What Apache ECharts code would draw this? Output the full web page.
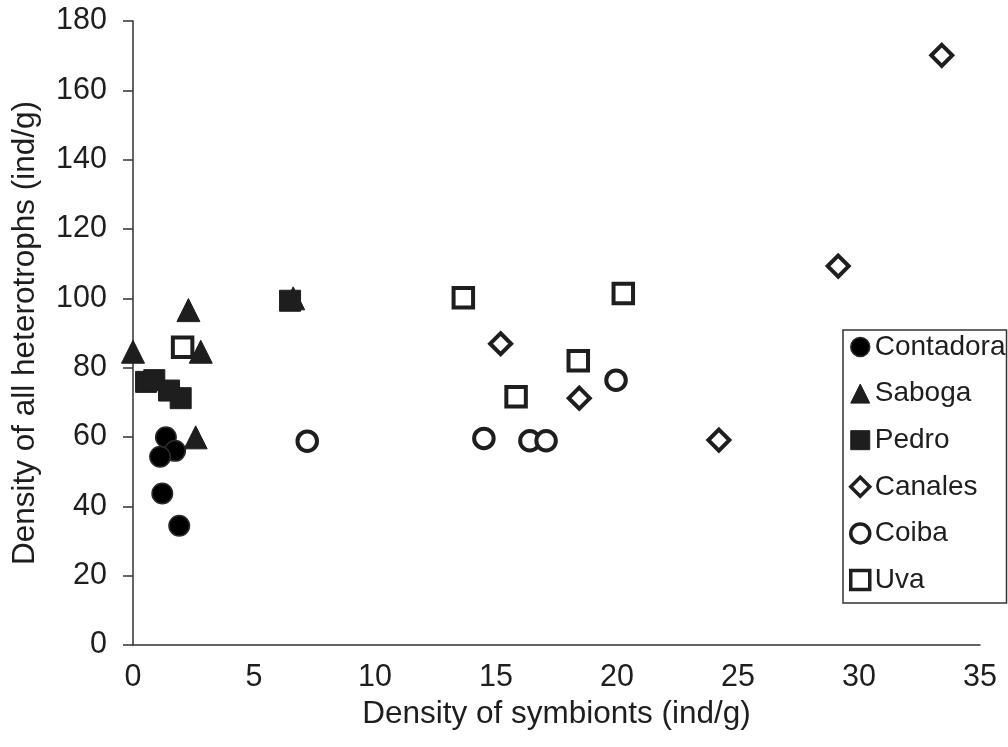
<!DOCTYPE html>
<html>
<head>
<meta charset="utf-8">
<script src="https://cdn.jsdelivr.net/npm/echarts@6/dist/echarts.min.js"></script>
<style>
html,body{margin:0;padding:0;background:#fff;}
#chart{width:1008px;height:747px;}
</style>
</head>
<body>
<div id="chart"></div>
<script>
const seriesNames = ['Contadora', 'Saboga', 'Pedro', 'Canales', 'Coiba', 'Uva'];
const contadoraX = [1.36, 1.74, 1.12, 1.21, 1.91];
const contadoraY = [59.9, 56.0, 54.3, 43.7, 34.4];
const sabogaX = [0.0, 2.29, 2.8, 2.59, 6.62];
const sabogaY = [84.6, 96.6, 84.6, 59.9, 100.0];
const pedroX = [0.54, 0.88, 1.49, 1.97, 6.49];
const pedroY = [75.9, 76.4, 73.4, 71.2, 99.3];
const canalesX = [15.19, 18.44, 24.21, 29.14, 33.42];
const canalesY = [86.9, 71.2, 59.1, 109.3, 170.1];
const coibaX = [7.2, 14.5, 16.4, 17.07, 19.96];
const coibaY = [58.8, 59.6, 58.9, 58.9, 76.4];
const uvaX = [2.05, 13.65, 15.83, 18.4, 20.26];
const uvaY = [85.9, 100.2, 71.6, 82.0, 101.4];

const xTicks = [0, 5, 10, 15, 20, 25, 30, 35];
const yTicks = [0, 20, 40, 60, 80, 100, 120, 140, 160, 180];

function pairs(xs, ys) { return xs.map((x, i) => [x, ys[i]]); }

const FONT = 'Liberation Sans, Arial, sans-serif';
const INK = '#1e1e1e';

const styles = [
  {symbol: 'circle', size: 20.5, item: {color: '#000', borderColor: '#2a2a2a', borderWidth: 1.5, opacity: 1}},
  {symbol: 'triangle', size: 23, item: {color: INK, borderColor: INK, borderWidth: 1, opacity: 1}},
  {symbol: 'rect', size: 21, item: {color: INK, borderColor: INK, borderWidth: 1, opacity: 1}},
  {symbol: 'diamond', size: 21, item: {color: '#fff', borderColor: INK, borderWidth: 4, opacity: 1}},
  {symbol: 'circle', size: 19.5, item: {color: '#fff', borderColor: INK, borderWidth: 4, opacity: 1}},
  {symbol: 'rect', size: 19.5, item: {color: '#fff', borderColor: INK, borderWidth: 4, opacity: 1}}
];
const legendIcon = [
  {color: '#000', borderColor: '#2a2a2a', borderWidth: 1.5},
  {color: INK, borderColor: INK, borderWidth: 1},
  {color: INK, borderColor: INK, borderWidth: 1},
  {color: '#fff', borderColor: INK, borderWidth: 3.5},
  {color: '#fff', borderColor: INK, borderWidth: 3.5},
  {color: '#fff', borderColor: INK, borderWidth: 3.5}
];
const dataSets = [
  pairs(contadoraX, contadoraY),
  pairs(sabogaX, sabogaY),
  pairs(pedroX, pedroY),
  pairs(canalesX, canalesY),
  pairs(coibaX, coibaY),
  pairs(uvaX, uvaY)
];

const chart = echarts.init(document.getElementById('chart'), null, {renderer: 'canvas'});
chart.setOption({
  backgroundColor: '#fff',
  animation: false,
  grid: {left: 133, right: 28, top: 21, bottom: 102, containLabel: false},
  xAxis: {
    type: 'value', min: xTicks[0], max: xTicks[xTicks.length - 1], interval: 5,
    name: 'Density of symbionts (ind/g)', nameLocation: 'middle', nameGap: 52,
    nameTextStyle: {fontFamily: FONT, fontSize: 31.5, color: INK},
    axisLine: {show: true, onZero: false, lineStyle: {color: '#333', width: 1.5}},
    axisTick: {show: false},
    axisLabel: {fontFamily: FONT, fontSize: 30.5, color: INK, margin: 17},
    splitLine: {show: false}
  },
  yAxis: {
    type: 'value', min: yTicks[0], max: yTicks[yTicks.length - 1], interval: 20,
    name: 'Density of all heterotrophs (ind/g)', nameLocation: 'middle', nameGap: 92,
    nameTextStyle: {fontFamily: FONT, fontSize: 31.5, color: INK},
    axisLine: {show: true, lineStyle: {color: '#333', width: 1.5}},
    axisTick: {show: true, inside: false, length: 10, lineStyle: {color: '#333', width: 1.5}},
    axisLabel: {fontFamily: FONT, fontSize: 30.5, color: INK, margin: 26},
    splitLine: {show: false}
  },
  legend: {
    orient: 'vertical', left: 843, top: 330,
    padding: [3, 1, 9, 6],
    itemWidth: 19, itemHeight: 19, itemGap: 18.6,
    borderColor: '#333', borderWidth: 1.5,
    textStyle: {fontFamily: FONT, fontSize: 28, color: INK, lineHeight: 28},
    data: seriesNames.map((n, i) => ({name: n, itemStyle: legendIcon[i]}))
  },
  series: seriesNames.map((n, i) => ({
    name: n, type: 'scatter', data: dataSets[i],
    symbol: styles[i].symbol, symbolSize: styles[i].size,
    itemStyle: styles[i].item,
    emphasis: {disabled: true}
  }))
});
</script>
</body>
</html>
